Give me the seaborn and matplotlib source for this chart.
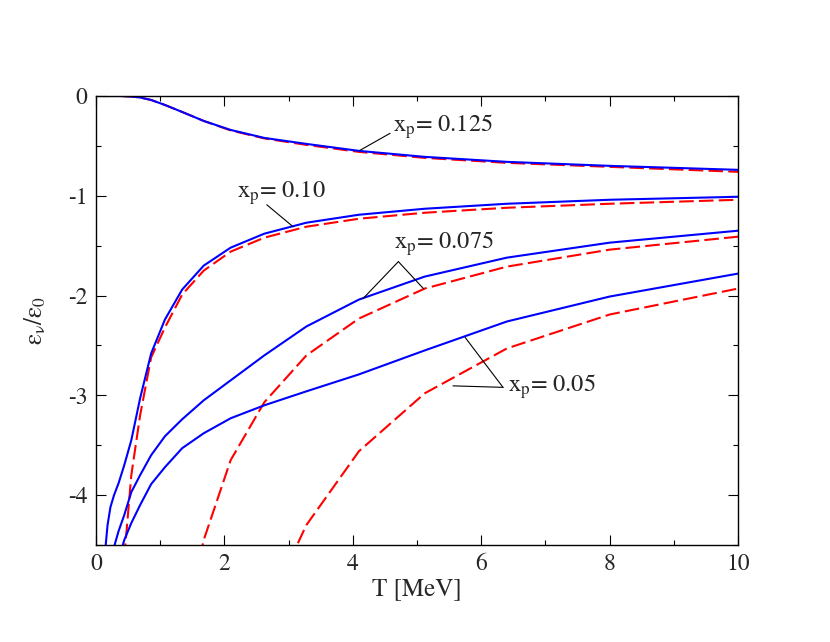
import numpy as np
import pandas as pd
import matplotlib
matplotlib.use("Agg")
import matplotlib.pyplot as plt
from matplotlib.ticker import MultipleLocator
import seaborn as sns

# temperatures where the curves were sampled
T = [0.115, 0.144, 0.180, 0.225, 0.281, 0.352, 0.440, 0.550, 0.687, 0.859,
     1.074, 1.342, 1.678, 2.097, 2.621, 3.277, 4.096, 5.12, 6.4, 8.0, 10.0]
nan = np.nan

# solid (blue) curves
full_125 = [0, 0, 0, 0, 0, 0, -0.002, -0.005, -0.015, -0.04,
            -0.09, -0.16, -0.25, -0.34, -0.42, -0.48, -0.55, -0.61, -0.66, -0.70, -0.74]
full_100 = [nan, -4.55, -4.3, -4.12, -4.0, -3.88, -3.70, -3.45, -3.03, -2.58,
            -2.24, -1.94, -1.70, -1.52, -1.38, -1.27, -1.19, -1.13, -1.08, -1.04, -1.01]
full_075 = [nan, nan, nan, -4.75, -4.52, -4.36, -4.2, -3.97, -3.80, -3.60,
            -3.41, -3.24, -3.05, -2.85, -2.60, -2.31, -2.04, -1.81, -1.62, -1.47, -1.35]
full_050 = [nan, nan, nan, nan, nan, -4.65, -4.45, -4.28, -4.10, -3.89,
            -3.72, -3.53, -3.38, -3.23, -3.10, -2.96, -2.79, -2.55, -2.26, -2.01, -1.78]

# dashed (red) curves
appr_125 = [0, 0, 0, 0, 0, 0, -0.002, -0.005, -0.015, -0.04,
            -0.09, -0.16, -0.25, -0.345, -0.425, -0.49, -0.56, -0.62, -0.67, -0.71, -0.76]
appr_100 = [nan, nan, nan, nan, nan, nan, -4.63, -3.80, -3.20, -2.62,
            -2.32, -1.99, -1.75, -1.56, -1.42, -1.31, -1.23, -1.17, -1.12, -1.08, -1.04]
appr_075 = [nan, nan, nan, nan, nan, nan, nan, nan, nan, nan,
            nan, -5.4, -4.45, -3.65, -3.07, -2.60, -2.23, -1.93, -1.71, -1.54, -1.41]
appr_050 = [nan, nan, nan, nan, nan, nan, nan, nan, nan, nan,
            nan, nan, nan, nan, -5.2, -4.30, -3.56, -2.98, -2.53, -2.19, -1.93]

curves = {
    ("full", "0.125"): full_125, ("full", "0.10"): full_100,
    ("full", "0.075"): full_075, ("full", "0.05"): full_050,
    ("approx", "0.125"): appr_125, ("approx", "0.10"): appr_100,
    ("approx", "0.075"): appr_075, ("approx", "0.05"): appr_050,
}
rows = []
for (model, xp), vals in curves.items():
    for t, v in zip(T, vals):
        rows.append({"T": t, "eps": v, "model": model, "xp": xp})
df = pd.DataFrame(rows).dropna()
df["unit"] = df["model"] + "_" + df["xp"]

sns.set_style("ticks")
plt.rcParams["font.family"] = ["STIXGeneral", "DejaVu Serif"]
plt.rcParams["mathtext.fontset"] = "stix"
plt.rcParams["axes.unicode_minus"] = False

fig = plt.figure(figsize=(8.3, 6.42), dpi=100)
ax = fig.add_axes([96 / 830, 1 - 545 / 642, 642 / 830, 449 / 642])

# dashed first so the solid curves sit on top
sns.lineplot(data=df, x="T", y="eps", hue="model", style="model", units="unit",
             hue_order=["approx", "full"], style_order=["approx", "full"],
             estimator=None, palette={"full": "#0000ff", "approx": "#ff0000"},
             dashes={"full": "", "approx": (7, 2.5)}, linewidth=1.5,
             legend=False, ax=ax)

ax.set_xlim(0, 10)
ax.set_ylim(-4.5, 0)
ax.xaxis.set_major_locator(MultipleLocator(2))
ax.xaxis.set_minor_locator(MultipleLocator(1))
ax.yaxis.set_major_locator(MultipleLocator(1))
ax.yaxis.set_minor_locator(MultipleLocator(0.5))
ax.tick_params(which="both", direction="in", top=True, right=True,
               width=0.8, color="black", labelsize=17)
ax.tick_params(which="major", length=7, pad=6)
ax.tick_params(which="minor", length=3.5)
for s in ax.spines.values():
    s.set_linewidth(1.0)
    s.set_color("black")

ax.set_xlabel("T [MeV]", fontsize=18, labelpad=2)
ax.set_ylabel(r"$\mathregular{ε_ν/ε_0}$", fontsize=18, labelpad=14)

# labels with leader lines
line_kw = dict(arrowstyle="-", color="black", lw=0.8, shrinkA=0, shrinkB=0)
lab_kw = dict(fontsize=17.5, va="baseline", ha="left")

ax.annotate("", xy=(4.11, -0.545), xytext=(4.58, -0.374), arrowprops=line_kw)
ax.text(4.63, -0.358, r"$\mathregular{x_p}$= 0.125", **lab_kw)

ax.annotate("", xy=(3.07, -1.31), xytext=(2.66, -1.09), arrowprops=line_kw)
ax.text(2.19, -1.015, r"$\mathregular{x_p}$= 0.10", **lab_kw)

ax.annotate("", xy=(4.16, -2.03), xytext=(4.71, -1.66), arrowprops=line_kw)
ax.annotate("", xy=(5.10, -1.93), xytext=(4.71, -1.66), arrowprops=line_kw)
ax.text(4.64, -1.526, r"$\mathregular{x_p}$= 0.075", **lab_kw)

ax.annotate("", xy=(5.75, -2.42), xytext=(6.34, -2.92), arrowprops=line_kw)
ax.annotate("", xy=(5.56, -2.905), xytext=(6.34, -2.92), arrowprops=line_kw)
ax.text(6.42, -2.963, r"$\mathregular{x_p}$= 0.05", **lab_kw)

fig.savefig("out.png", dpi=100)
